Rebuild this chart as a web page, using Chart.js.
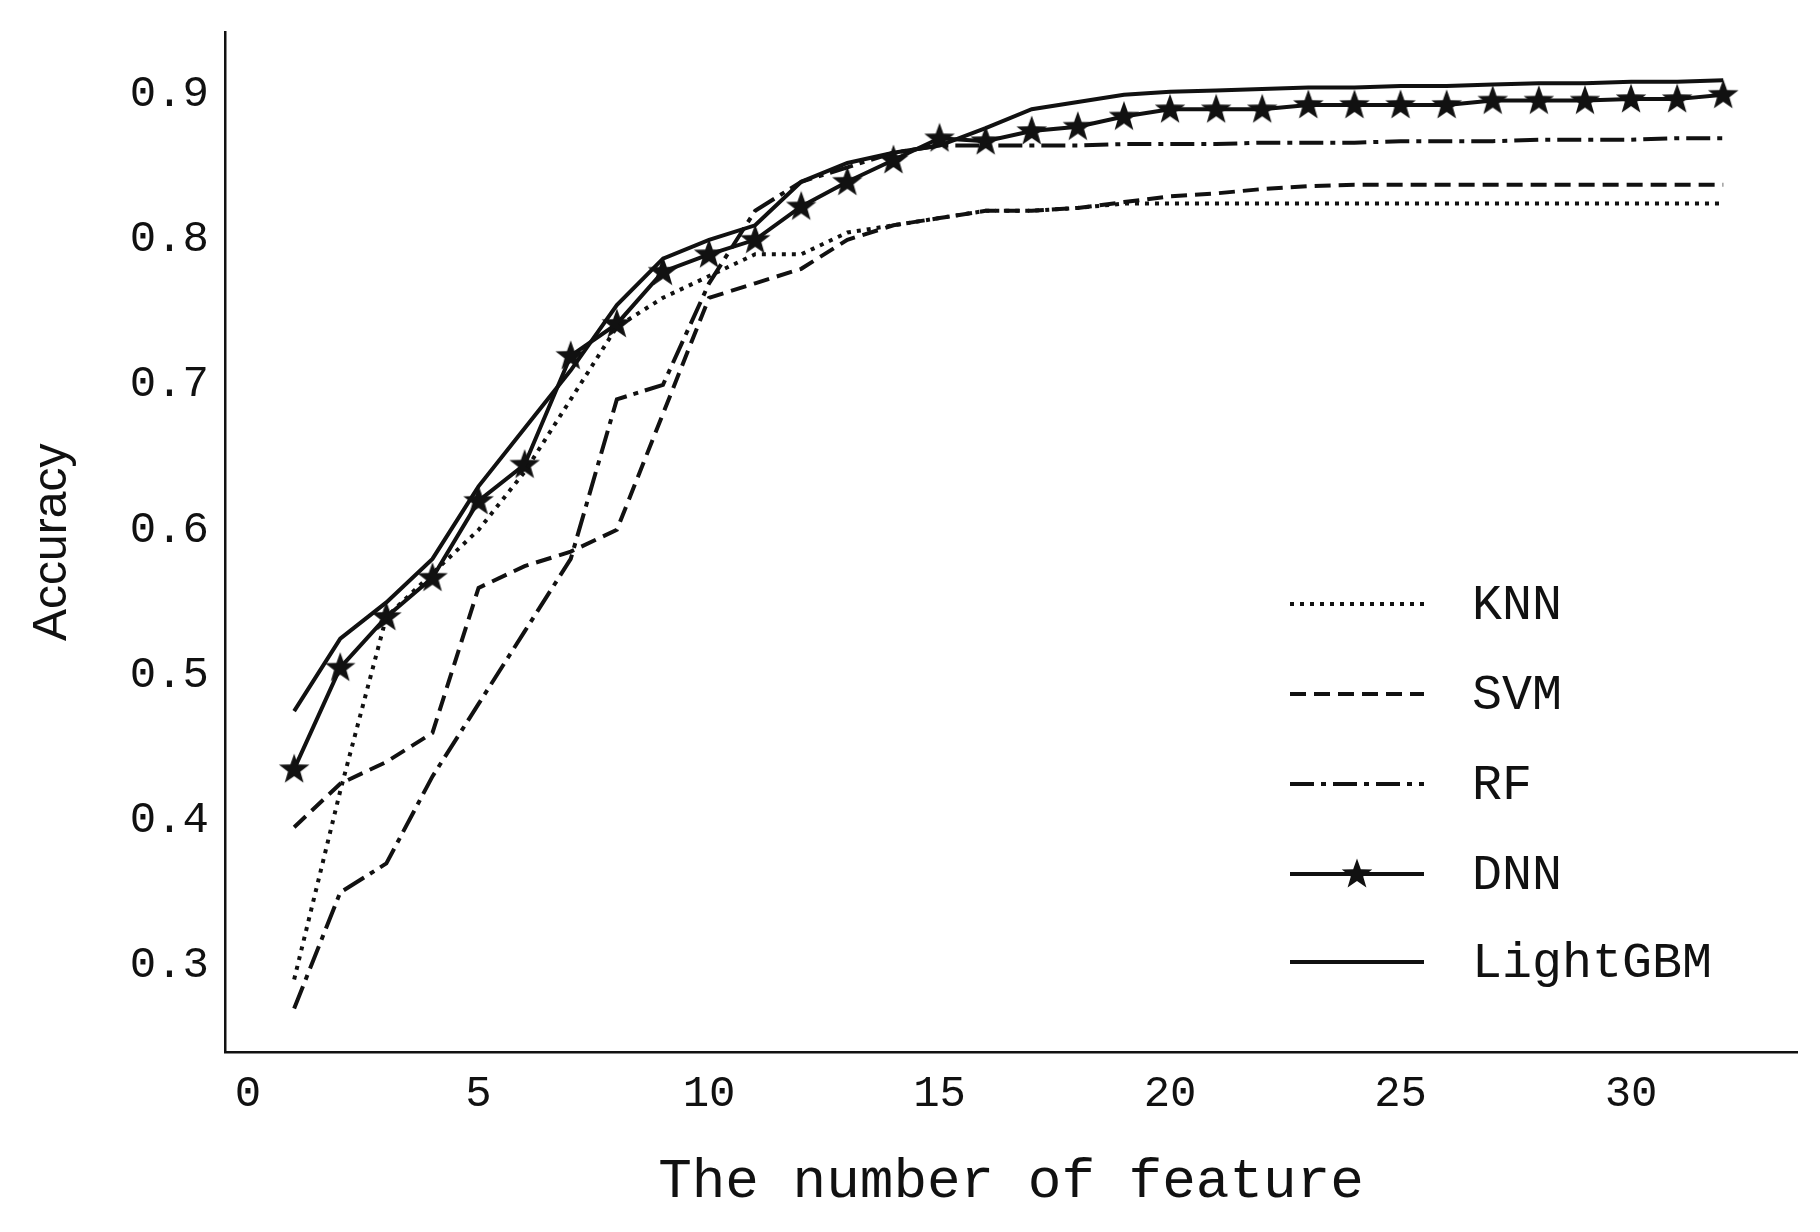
<!DOCTYPE html>
<html><head><meta charset="utf-8">
<script src="https://cdn.jsdelivr.net/npm/chart.js@4"></script>
<style>html,body{margin:0;background:#fff}#w{width:1820px;height:1232px}</style>
</head><body><div id="w"><canvas id="c"></canvas></div>
<script>
const xs = Array.from({length:32},(_,i)=>i+1);
const knn = [0.29,0.42,0.54,0.57,0.60,0.64,0.69,0.74,0.76,0.775,0.79,0.79,0.805,0.81,0.815,0.82,0.82,0.822,0.825,0.825,0.825,0.825,0.825,0.825,0.825,0.825,0.825,0.825,0.825,0.825,0.825,0.825];
const svm = [0.395,0.425,0.44,0.46,0.56,0.575,0.585,0.60,0.68,0.76,0.77,0.78,0.80,0.81,0.815,0.82,0.82,0.822,0.826,0.83,0.832,0.835,0.837,0.838,0.838,0.838,0.838,0.838,0.838,0.838,0.838,0.838];
const rf = [0.27,0.35,0.37,0.43,0.48,0.53,0.58,0.69,0.70,0.77,0.82,0.84,0.85,0.86,0.865,0.865,0.865,0.865,0.866,0.866,0.866,0.867,0.867,0.867,0.868,0.868,0.868,0.869,0.869,0.869,0.87,0.87];
const dnn = [0.435,0.505,0.54,0.567,0.62,0.645,0.72,0.742,0.778,0.79,0.80,0.823,0.84,0.855,0.87,0.868,0.875,0.878,0.885,0.89,0.89,0.89,0.893,0.893,0.893,0.893,0.896,0.896,0.896,0.897,0.897,0.90];
const lgbm = [0.475,0.525,0.55,0.58,0.63,0.67,0.71,0.755,0.787,0.80,0.81,0.84,0.853,0.86,0.865,0.877,0.89,0.895,0.90,0.902,0.903,0.904,0.905,0.905,0.906,0.906,0.907,0.908,0.908,0.909,0.909,0.91];
const labels = ['KNN','SVM','RF','DNN','LightGBM'];
const xTicks = [0,5,10,15,20,25,30];
const yTicks = [0.3,0.4,0.5,0.6,0.7,0.8,0.9];

const star = document.createElement('canvas'); star.width=star.height=32;
{const g=star.getContext('2d');g.fillStyle='#111';g.beginPath();
 for(let i=0;i<10;i++){const r=i%2?6.5:16,a=-Math.PI/2+i*Math.PI/5;g.lineTo(16+r*Math.cos(a),16.5+r*Math.sin(a));}
 g.closePath();g.fill();}

const mk=(d)=>xs.map((x,i)=>({x,y:d[i]}));
const base={borderColor:'#111',borderWidth:4,pointRadius:0,fill:false,tension:0};
const datasets=[
 {...base,label:labels[0],data:mk(knn),borderDash:[4,6]},
 {...base,label:labels[1],data:mk(svm),borderDash:[16,8]},
 {...base,label:labels[2],data:mk(rf),borderDash:[24,7,5,7]},
 {...base,label:labels[3],data:mk(dnn),pointStyle:star,pointRadius:16},
 {...base,label:labels[4],data:mk(lgbm)}
];
const legendPlugin={id:'lg',afterDatasetsDraw(ch){
 const c=ch.ctx;const ys=[604,694,784,874,962];
 c.save();
 ch.data.datasets.forEach((d,i)=>{
  c.strokeStyle='#111';c.lineWidth=4;c.setLineDash(d.borderDash||[]);
  c.beginPath();c.moveTo(1290,ys[i]);c.lineTo(1424,ys[i]);c.stroke();
  if(d.pointRadius) c.drawImage(star,1357-16,ys[i]-16);
  c.setLineDash([]);c.fillStyle='#111';c.font='50px "Liberation Mono"';c.textBaseline='middle';
  c.fillText(d.label,1472,ys[i]+2);
 });
 c.restore();}};
new Chart(document.getElementById('c'),{type:'line',data:{datasets},
 options:{responsive:true,maintainAspectRatio:false,animation:false,
  layout:{padding:{top:23,right:23,left:0,bottom:0}},
  plugins:{legend:{display:false},tooltip:{enabled:false}},
  scales:{
   x:{type:'linear',min:-0.5,max:33.6,
    afterBuildTicks:a=>{a.ticks=xTicks.map(v=>({value:v}))},
    afterFit:a=>{a.height=180},
    grid:{display:false,drawTicks:true,tickLength:10,tickColor:'#111'},
    border:{color:'#111',width:2.5},
    ticks:{color:'#111',font:{family:'Liberation Mono',size:44},padding:6,maxRotation:0,callback:v=>String(v)},
    title:{display:true,text:'The number of feature',color:'#111',font:{family:'Liberation Mono',size:56},padding:{top:0,bottom:16}}},
   y:{min:0.24,max:0.943,
    afterBuildTicks:a=>{a.ticks=yTicks.map(v=>({value:v}))},
    afterFit:a=>{a.width=225},
    grid:{display:false,drawTicks:true,tickLength:10,tickColor:'#111'},
    border:{color:'#111',width:2.5},
    ticks:{color:'#111',font:{family:'Liberation Mono',size:44},padding:6,callback:v=>v.toFixed(1)},
    title:{display:true,text:'Accuracy',color:'#111',font:{family:'Liberation Sans',size:48},padding:{top:24,bottom:0}}}
  }},plugins:[legendPlugin]});
</script></body></html>
